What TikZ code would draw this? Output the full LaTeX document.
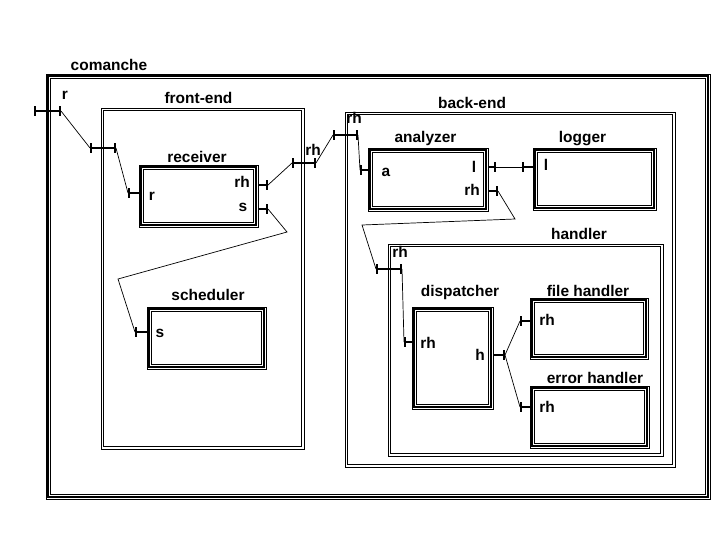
\documentclass[tikz,border=0pt]{standalone}
\usepackage{fontspec}
\setmainfont{Liberation Sans}
\usetikzlibrary{calc,arrows.meta}
\def\px{0.025cm}
\def\thinw{0.7pt}
\def\thickw{1.4pt}

% extra frame line inside a box, #2 in from its border
\newcommand\inframe[3]{%
  \draw[line width=#3] ($(#1.north west)+(#2,#2)$) rectangle ($(#1.south east)-(#2,#2)$);}
\newcommand\triframe[1]{\inframe{#1}{2.3}{\thickw}\inframe{#1}{4.8}{\thinw}}
\newcommand\dblframe[1]{\inframe{#1}{3}{\thinw}}

\tikzset{%
  box/.style 2 args={draw, line width=\thinw, inner sep=0pt,
    minimum width=#1*\px, minimum height=#2*\px},
  title/.style={font=\bfseries\fontsize{11}{13}\selectfont, inner sep=0pt, anchor=base},
  port/.style={line width=\thickw, -{Bar[width=7pt]}},
  tport/.style={line width=\thickw, {Bar[width=7pt]}-{Bar[width=7pt]}},
  wire/.style={line width=0.5pt}}

\begin{document}
\begin{tikzpicture}[x=\px,y=-\px]
  \useasboundingbox (0,0) rectangle (720,540);

  % boxes
  \node[box={664}{425}] (comanche) at (378,286.5) {};
  \triframe{comanche}
  \node[box={203}{341}] (frontend) at (202.5,278.5) {};
  \dblframe{frontend}
  \node[box={119}{62}] (receiver) at (198.5,196) {};
  \triframe{receiver}
  \node[box={119}{62}] (scheduler) at (206.5,338) {};
  \triframe{scheduler}
  \node[box={330}{355}] (backend) at (510,289.5) {};
  \dblframe{backend}
  \node[box={120}{63}] (analyzer) at (428,179.5) {};
  \triframe{analyzer}
  \node[box={123}{62}] (logger) at (594.5,179) {};
  \triframe{logger}
  \node[box={275}{212}] (handler) at (525.5,350) {};
  \dblframe{handler}
  \node[box={81}{102}] (dispatcher) at (452.5,358) {};
  \triframe{dispatcher}
  \node[box={118}{61}] (filehandler) at (589,328.5) {};
  \triframe{filehandler}
  \node[box={119}{62}] (errorhandler) at (589.5,417) {};
  \triframe{errorhandler}

  % titles
  \node[title] (t-comanche) at (109,70) {comanche};
  \node[title] (t-frontend) at (198.5,103) {front-end};
  \node[title] (t-receiver) at (197,162) {receiver};
  \node[title] (t-scheduler) at (208,300) {scheduler};
  \node[title] (t-backend) at (472,108) {back-end};
  \node[title] (t-analyzer) at (425.5,142) {analyzer};
  \node[title] (t-logger) at (582.5,142) {logger};
  \node[title] (t-handler) at (579,239) {handler};
  \node[title] (t-dispatcher) at (460,296) {dispatcher};
  \node[title] (t-filehandler) at (588,296) {file handler};
  \node[title] (t-errorhandler) at (595,383) {error handler};

  % port ends
  \coordinate (com-r-a) at (34,111);   \coordinate (com-r-b) at (61,111);
  \coordinate (fe-r-a) at (90,148);    \coordinate (fe-r-b) at (116,148);
  \coordinate (fe-rh-a) at (292,163);  \coordinate (fe-rh-b) at (316,163);
  \coordinate (be-rh-a) at (333,135);  \coordinate (be-rh-b) at (358,135);
  \coordinate (hd-rh-a) at (376,269);  \coordinate (hd-rh-b) at (402,269);
  \coordinate (rc-r) at (128,193);
  \coordinate (rc-rh) at (268,185);
  \coordinate (rc-s) at (268,209);
  \coordinate (sc-s) at (135,332);
  \coordinate (an-a) at (360,170);
  \coordinate (an-l) at (496,167);
  \coordinate (an-rh) at (498,191);
  \coordinate (lg-l) at (522,167);
  \coordinate (dp-rh) at (404,342);
  \coordinate (dp-h) at (505,355);
  \coordinate (fh-rh) at (520,321);
  \coordinate (eh-rh) at (520,407);

  % ports
  \draw[tport] (com-r-a) -- (com-r-b);
  \draw[tport] (fe-r-a) -- (fe-r-b);
  \draw[tport] (fe-rh-a) -- (fe-rh-b);
  \draw[tport] (be-rh-a) -- (be-rh-b);
  \draw[tport] (hd-rh-a) -- (hd-rh-b);
  \draw[port] (receiver.west |- rc-r) -- (rc-r);
  \draw[port] (receiver.east |- rc-rh) -- (rc-rh);
  \draw[port] (receiver.east |- rc-s) -- (rc-s);
  \draw[port] (scheduler.west |- sc-s) -- (sc-s);
  \draw[port] (analyzer.west |- an-a) -- (an-a);
  \draw[port] (analyzer.east |- an-l) -- (an-l);
  \draw[port] (analyzer.east |- an-rh) -- (an-rh);
  \draw[port] (logger.west |- lg-l) -- (lg-l);
  \draw[port] (dispatcher.west |- dp-rh) -- (dp-rh);
  \draw[port] (dispatcher.east |- dp-h) -- (dp-h);
  \draw[port] (filehandler.west |- fh-rh) -- (fh-rh);
  \draw[port] (errorhandler.west |- eh-rh) -- (eh-rh);

  % port names
  \node[title] (p-com-r) at (65,99) {r};
  \node[title] (p-rc-r) at (152,200) {r};
  \node[title] (p-rc-rh) at (242,187) {rh};
  \node[title] (p-rc-s) at (243,211) {s};
  \node[title] (p-fe-rh) at (313,155) {rh};
  \node[title] (p-be-rh) at (354,123) {rh};
  \node[title] (p-an-a) at (386,176) {a};
  \node[title] (p-an-l) at (474,172) {l};
  \node[title] (p-an-rh) at (472,195) {rh};
  \node[title] (p-lg-l) at (546,170) {l};
  \node[title] (p-hd-rh) at (400,257) {rh};
  \node[title] (p-dp-rh) at (428,348) {rh};
  \node[title] (p-dp-h) at (480,360) {h};
  \node[title] (p-fh-rh) at (547,325) {rh};
  \node[title] (p-eh-rh) at (547,412) {rh};
  \node[title] (p-sc-s) at (160,337) {s};

  % bends
  \coordinate (s-bend1) at (287,232);
  \coordinate (s-bend2) at (118,279);
  \coordinate (rh-bend1) at (515,219);
  \coordinate (rh-bend2) at (362,225);

  % wires
  \draw[wire] (com-r-b) -- (fe-r-a);
  \draw[wire] (fe-r-b) -- (rc-r);
  \draw[wire] (rc-rh) -- (fe-rh-a);
  \draw[wire] (fe-rh-b) -- (be-rh-a);
  \draw[wire] (be-rh-b) -- (an-a);
  \draw[wire] (an-l) -- (lg-l);
  \draw[wire] (an-rh) -- (rh-bend1) -- (rh-bend2) -- (hd-rh-a);
  \draw[wire] (hd-rh-b) -- (dp-rh);
  \draw[wire] (dp-h) -- (fh-rh);
  \draw[wire] (dp-h) -- (eh-rh);
  \draw[wire] (rc-s) -- (s-bend1) -- (s-bend2) -- (sc-s);
\end{tikzpicture}
\end{document}
